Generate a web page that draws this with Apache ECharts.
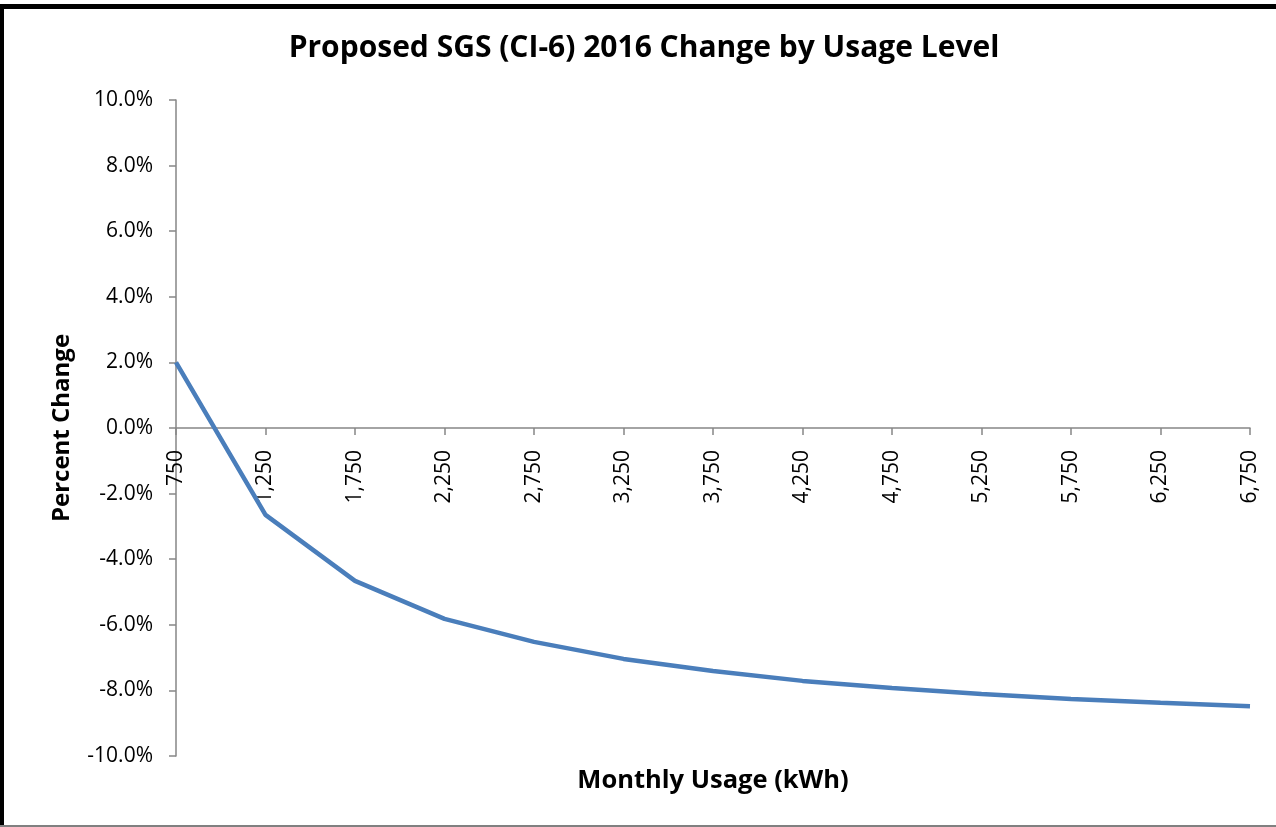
<!DOCTYPE html>
<html>
<head>
<meta charset="utf-8">
<script src="https://cdn.jsdelivr.net/npm/echarts@6/dist/echarts.min.js"></script>
<style>
  html, body { margin: 0; padding: 0; background: #fff; }
  #chart { position: absolute; left: 0; top: 0; width: 1276px; height: 827px; }
  .bt { position: absolute; left: 0; top: 4px; width: 1276px; height: 5px; background: #000; }
  .bl { position: absolute; left: 0; top: 4px; width: 4px; height: 823px; background: #000; }
  .bb { position: absolute; left: 0; top: 825px; width: 1276px; height: 2px; background: #808080; }
</style>
</head>
<body>
<div id="chart"></div>
<div class="bt"></div><div class="bl"></div><div class="bb"></div>
<script>
const categories = ['750','1,250','1,750','2,250','2,750','3,250','3,750','4,250','4,750','5,250','5,750','6,250','6,750'];
const percentChange = [2.0, -2.65, -4.66, -5.82, -6.52, -7.04, -7.41, -7.71, -7.93, -8.11, -8.26, -8.38, -8.48];
const yTicks = { min: -10, max: 10, interval: 2 };
const chartTitle = 'Proposed SGS (CI-6) 2016 Change by Usage Level';
const xTitle = 'Monthly Usage (kWh)';
const yTitle = 'Percent Change';

const FONT = '"Open Sans"';
const chart = echarts.init(document.getElementById('chart'), null, { renderer: 'canvas' });
chart.setOption({
  animation: false,
  backgroundColor: 'transparent',
  title: [
    { text: chartTitle, left: 639, top: 28, textAlign: 'center',
      textStyle: { fontFamily: FONT, fontWeight: 'bold', fontSize: 30, color: '#000' } },
    { text: xTitle, left: 708, top: 763, textAlign: 'center',
      textStyle: { fontFamily: FONT, fontWeight: 'bold', fontSize: 25.5, color: '#000' } }
  ],
  grid: { left: 176, right: 26, top: 100, bottom: 71, containLabel: false },
  xAxis: {
    type: 'category',
    data: categories,
    boundaryGap: false,
    position: 'bottom',
    offset: -328,
    axisLine: { onZero: false, lineStyle: { color: '#868686', width: 1.5 } },
    axisTick: { show: true, alignWithLabel: true, length: 7, lineStyle: { color: '#868686', width: 1.5 } },
    axisLabel: { rotate: 90, margin: 22, fontFamily: FONT, fontSize: 21, color: '#000', interval: 0 },
    splitLine: { show: false }
  },
  yAxis: {
    type: 'value',
    min: yTicks.min, max: yTicks.max, interval: yTicks.interval,
    name: yTitle,
    nameLocation: 'middle',
    nameGap: 102,
    nameTextStyle: { fontFamily: FONT, fontWeight: 'bold', fontSize: 24, color: '#000' },
    axisLine: { show: true, lineStyle: { color: '#868686', width: 1.5 } },
    axisTick: { show: true, length: 7, lineStyle: { color: '#868686', width: 1.5 } },
    axisLabel: { margin: 23, fontFamily: FONT, fontSize: 21, color: '#000',
      formatter: v => v.toFixed(1) + '%' },
    splitLine: { show: false }
  },
  series: [{
    type: 'line',
    data: percentChange,
    showSymbol: false,
    symbol: 'none',
    lineStyle: { color: '#4a7ebb', width: 4.5 },
    itemStyle: { color: '#4a7ebb' }
  }]
});
</script>
</body>
</html>
